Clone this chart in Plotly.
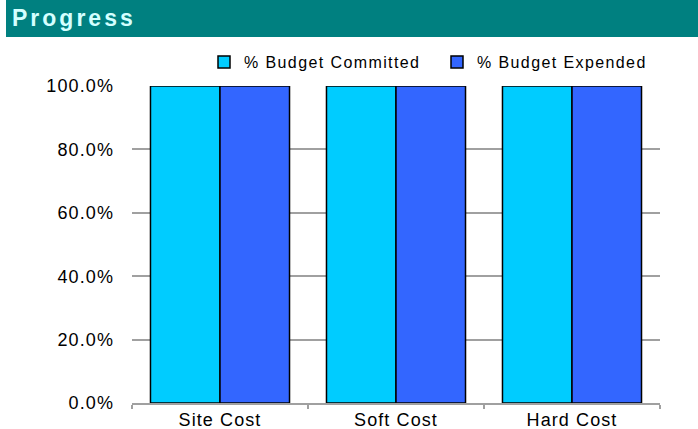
import plotly.graph_objects as go

categories = ["Site Cost", "Soft Cost", "Hard Cost"]
committed = [1.0, 1.0, 1.0]
expended = [1.0, 1.0, 1.0]
series_names = ["% Budget Committed", "% Budget Expended"]
y_ticks = [0, 0.2, 0.4, 0.6, 0.8, 1.0]

W, H = 698, 429
L, R, T, B = 132, 38, 86, 26
pw, ph = W - L - R, H - T - B

def px(x):
    return (x - L) / pw

def py(y):
    return (H - B - y) / ph

FONT = "Liberation Sans, Arial, sans-serif"

fig = go.Figure()
fig.add_bar(x=categories, y=committed, name=series_names[0],
            marker=dict(color="#00CCFF", line=dict(color="black", width=1.5)))
fig.add_bar(x=categories, y=expended, name=series_names[1],
            marker=dict(color="#3366FF", line=dict(color="black", width=1.5)))

fig.update_layout(
    width=W, height=H,
    margin=dict(l=L, r=R, t=T, b=B, pad=0),
    paper_bgcolor="white", plot_bgcolor="white",
    barmode="group", bargap=0.21, bargroupgap=0,
    font=dict(family=FONT, size=18, color="black"),
    legend=dict(orientation="h", x=px(204), xanchor="left", y=py(62), yanchor="middle",
                font=dict(size=16, family=FONT), itemwidth=30, entrywidth=188,
                bgcolor="rgba(0,0,0,0)", borderwidth=0),
    showlegend=True,
    shapes=[dict(type="rect", xref="paper", yref="paper",
                 x0=px(6), x1=px(700), y0=py(37), y1=py(-2),
                 fillcolor="#008080", line=dict(width=0), layer="below")],
    annotations=[dict(text="<b>Progress</b>", xref="paper", yref="paper",
                      x=px(22), y=py(18), xanchor="left", yanchor="middle",
                      showarrow=False, font=dict(size=23, color="#D4FFFF", family=FONT))],
)
fig.update_yaxes(range=[0, 1], tickvals=y_ticks, tickformat=".1%",
                 showgrid=True, gridcolor="#A0A0A0", gridwidth=1.5,
                 showline=False, zeroline=False, ticks="", ticklen=0,
                 ticklabelstandoff=17, automargin=False)
fig.update_xaxes(showline=True, linecolor="#A0A0A0", linewidth=1.5,
                 ticks="outside", tickson="boundaries", ticklen=4,
                 tickcolor="#A0A0A0", tickwidth=1.5, showgrid=False,
                 automargin=False)

post = """
document.body.style.margin = '0';
document.querySelectorAll('.xtick text, .ytick text').forEach(function(e){e.style.letterSpacing='1.1px';});
document.querySelectorAll('.legendtext').forEach(function(e){e.style.letterSpacing='1.4px';});
document.querySelectorAll('.annotation-text').forEach(function(e){e.style.letterSpacing='3px';});
"""

fig.write_html("out.html", post_script=post, config={"displayModeBar": False})
